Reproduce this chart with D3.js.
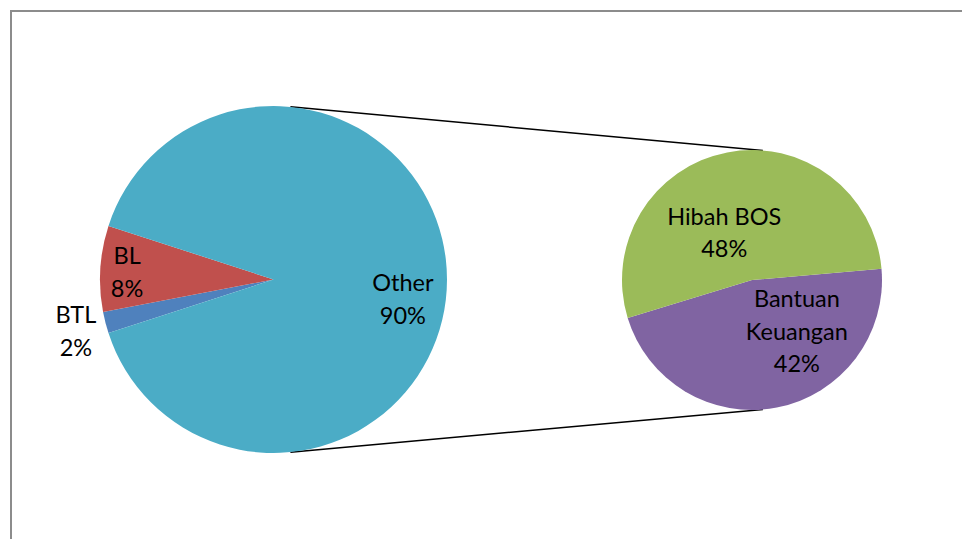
<!DOCTYPE html>
<html>
<head>
<meta charset="utf-8">
<script src="https://cdn.jsdelivr.net/npm/d3@7"></script>
<style>
html,body{margin:0;padding:0;background:#fff;}
svg{display:block;}
</style>
</head>
<body>
<svg id="chart" width="962" height="539"></svg>
<script>
// ---- data ----
const mainCategories = ["BTL", "BL", "Other"];
const mainValues = [2, 8, 90];
const mainColors = ["#4F81BD", "#C0504D", "#4BACC6"];

const subCategories = [["Bantuan", "Keuangan"], ["Hibah BOS"]];
const subValues = [42, 48];
const subColors = ["#8064A2", "#9BBB59"];

const mainLabelText = ["2%", "8%", "90%"];
const subLabelText = ["42%", "48%"];

// ---- layout ----
const svg = d3.select("#chart");
const deg = Math.PI / 180;
const main = {cx: 273.5, cy: 279.5, r: 173.5};
const sub = {cx: 752, cy: 280, r: 130};
const fontSize = 23.5, lineH = 32.5, capH = 16.5;

// frame
svg.append("rect").attr("x", 11).attr("y", 11).attr("width", 1000).attr("height", 600)
  .attr("fill", "none").attr("stroke", "#8c8c8c").attr("stroke-width", 2);

function polar(c, ang, rad) {
  return [c.cx + Math.sin(ang) * rad, c.cy - Math.cos(ang) * rad];
}

// connector lines
const connectors = [[5.6, 4.8], [174.4, 175.2]];
connectors.forEach(([a1, a2]) => {
  const p1 = polar(main, a1 * deg, main.r);
  const p2 = polar(sub, a2 * deg, sub.r);
  svg.append("line").attr("x1", p1[0]).attr("y1", p1[1]).attr("x2", p2[0]).attr("y2", p2[1])
    .attr("stroke", "#000").attr("stroke-width", 1.5);
});

// main pie
const mainPie = d3.pie().sort(null).startAngle(252 * deg).endAngle(612 * deg);
const mainArcs = mainPie(mainValues);
const arcMain = d3.arc().innerRadius(0).outerRadius(main.r);
const gMain = svg.append("g").attr("transform", `translate(${main.cx},${main.cy})`);
gMain.selectAll("path").data(mainArcs).join("path")
  .attr("d", arcMain).attr("fill", (d, i) => mainColors[i]);

// sub pie
const subPie = d3.pie().sort(null).startAngle(85 * deg).endAngle(445 * deg);
const subArcs = subPie(subValues);
const arcSub = d3.arc().innerRadius(0).outerRadius(sub.r);
const gSub = svg.append("g").attr("transform", `translate(${sub.cx},${sub.cy})`);
gSub.selectAll("path").data(subArcs).join("path")
  .attr("d", arcSub).attr("fill", (d, i) => subColors[i]);

// labels (polar placement: angle in degrees, radius fraction)
const mainLabelPos = [[255.35, 1.177], [272.9, 0.845], [98.6, 0.754]];
const subLabelPos = [[138.9, 0.525], [329.5, 0.42]];

function drawLabel(c, pos, lines) {
  const [x, y] = polar(c, pos[0] * deg, pos[1] * c.r);
  const n = lines.length;
  const t = svg.append("text").attr("text-anchor", "middle")
    .attr("font-family", "Lato, 'Noto Sans', sans-serif").attr("font-size", fontSize).attr("fill", "#000");
  lines.forEach((s, i) => {
    t.append("tspan").attr("x", x).attr("y", y + (i - (n - 1) / 2) * lineH + capH / 2).text(s);
  });
}
mainCategories.forEach((c, i) => drawLabel(main, mainLabelPos[i], [c, mainLabelText[i]]));
subCategories.forEach((c, i) => drawLabel(sub, subLabelPos[i], [...c, subLabelText[i]]));
</script>
</body>
</html>
